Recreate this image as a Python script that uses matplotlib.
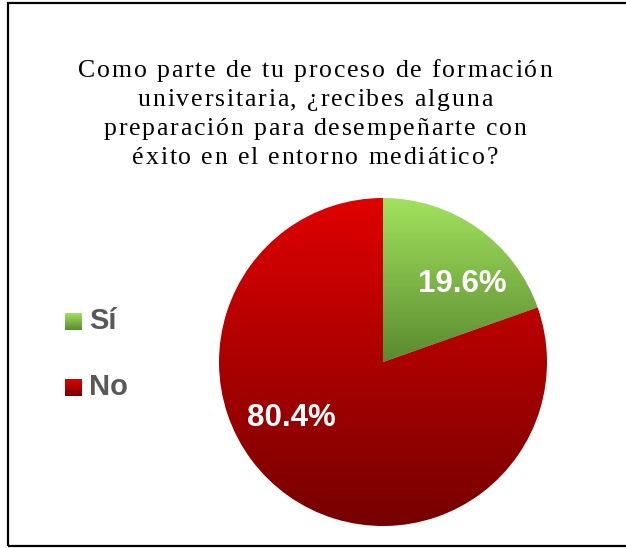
import numpy as np
import matplotlib
matplotlib.use("Agg")
import matplotlib.pyplot as plt
from matplotlib.colors import LinearSegmentedColormap
from matplotlib.patches import Rectangle
from matplotlib.transforms import IdentityTransform
from matplotlib.font_manager import findfont, FontProperties
from matplotlib.ft2font import FT2Font

# Data
categories = ['Sí', 'No']
values = [19.6, 80.4]
labels = ['19.6%', '80.4%']
top_colors = ['#A2E25E', '#E00000']
bottom_colors = ['#5A8A30', '#760000']

title_lines = ['Como parte de tu proceso de formación',
               'universitaria, ¿recibes alguna',
               'preparación para desempeñarte con',
               'éxito en el entorno mediático?']

W, H = 626, 548
fig = plt.figure(figsize=(W / 100, H / 100), dpi=100)

# outer frame of the chart area
fig.patches.append(Rectangle((8 / W, 2 / H), 1.0, 1 - 5 / H, transform=fig.transFigure,
                             fill=False, edgecolor='black', linewidth=1.6, zorder=10))

# pie axes, center (383, 362) px, radius 164 px
cx, cy, r, half = 383, 362, 164, 175
ax = fig.add_axes([(cx - half) / W, (H - cy - half) / H, 2 * half / W, 2 * half / H])
lim = half / r
ax.set_xlim(-lim, lim)
ax.set_ylim(-lim, lim)
ax.set_aspect('equal')
ax.axis('off')

wedges, _ = ax.pie(values, startangle=90, counterclock=False, radius=1.0,
                   wedgeprops=dict(linewidth=0))

grad = np.linspace(1, 0, 256).reshape(-1, 1)
for w, c0, c1 in zip(wedges, top_colors, bottom_colors):
    cmap = LinearSegmentedColormap.from_list('g', [c1, c0])
    ext = w.get_path().get_extents()
    w.set_facecolor('none')
    im = ax.imshow(grad, cmap=cmap, extent=[ext.x0, ext.x1, ext.y0, ext.y1],
                   aspect='auto', origin='upper', vmin=0, vmax=1, zorder=1)
    im.set_clip_path(w)
ax.set_xlim(-lim, lim)
ax.set_ylim(-lim, lim)

# percent labels
label_px = [(462, 284), (291, 418)]
for (px, py), txt in zip(label_px, labels):
    x = (px - cx) / r
    y = (cy - py) / r
    ax.text(x, y, txt, ha='center', va='center', color='white', fontsize=22.5,
            fontweight='bold', family='Liberation Sans', zorder=5)

# title, drawn char by char to get the wide letter spacing
tsize = 18.5
tracking = 1.85  # extra px after each char
font = FT2Font(findfont(FontProperties(family='Liberation Serif')))
font.set_size(tsize, 100)


def advance(ch):
    g = font.load_char(ord(ch))
    return g.linearHoriAdvance / 65536


baseline = 77
for line in title_lines:
    advs = [advance(ch) + tracking for ch in line]
    total = sum(advs) - tracking
    x = 315 - total / 2
    for ch, a in zip(line, advs):
        if ch != ' ':
            fig.text(x, H - baseline, ch, transform=IdentityTransform(), ha='left',
                     va='baseline', fontsize=tsize, family='Liberation Serif', color='black')
        x += a
    baseline += 29

# legend
leg_y = [321, 387]
for cat, yy, c0, c1 in zip(categories, leg_y, top_colors, bottom_colors):
    lax = fig.add_axes([65 / W, 1 - (yy + 9) / H, 17 / W, 17 / H])
    cmap = LinearSegmentedColormap.from_list('g', [c1, c0])
    lax.imshow(grad, cmap=cmap, aspect='auto', vmin=0, vmax=1)
    lax.axis('off')
    fig.text(89 / W, 1 - yy / H, cat, ha='left', va='center', fontsize=21,
             fontweight='bold', family='Liberation Sans', color='#595959')

fig.savefig('out.png', dpi=100)
